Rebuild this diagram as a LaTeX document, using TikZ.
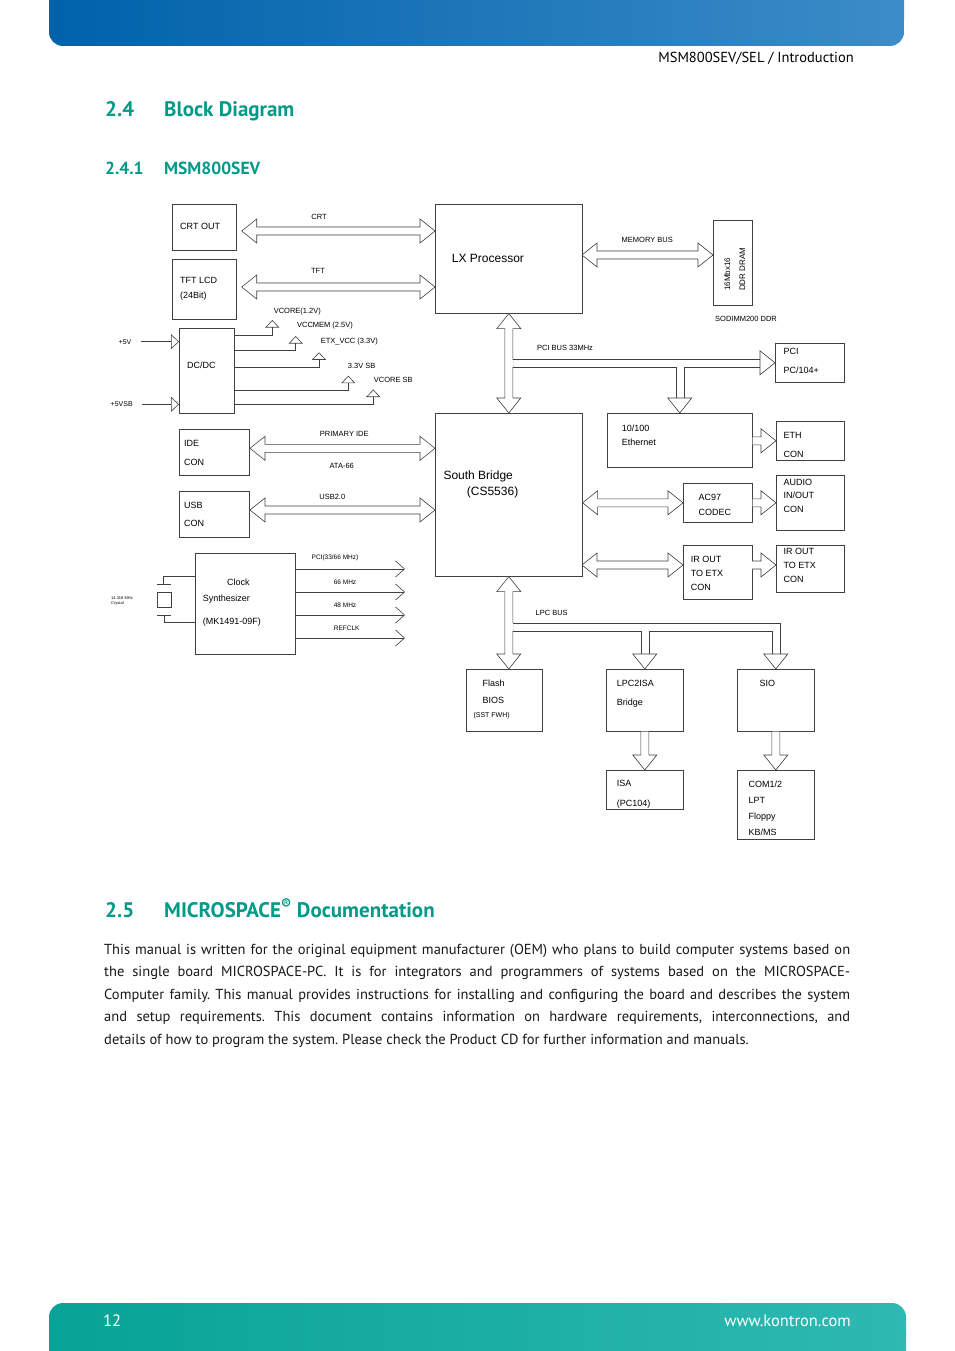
\documentclass[tikz,border=0pt]{standalone}
\usepackage{fontspec}
\setmainfont{PT Sans}
\newfontfamily\diag{Liberation Sans}
\usepackage{tikz}
\usetikzlibrary{calc, arrows.meta, positioning}
\definecolor{kteal}{RGB}{0,154,136}
\definecolor{hdleft}{RGB}{0,98,170}
\definecolor{hdright}{RGB}{60,140,200}
\definecolor{ftleft}{RGB}{8,163,150}
\definecolor{ftright}{RGB}{46,185,178}

\begin{document}
\begin{tikzpicture}[x=1pt, y=-1pt,
    blk/.style={draw=black!75, line width=0.6pt, fill=white, inner sep=0pt, anchor=north west},
    txt/.style={font=\diag\fontsize{9}{14}\selectfont, inner sep=0pt, anchor=base west, align=left},
    lbl/.style={font=\diag\fontsize{7.5}{9}\selectfont, inner sep=0pt},
    sml/.style={font=\diag\fontsize{6.5}{8}\selectfont, inner sep=0pt},
    wire/.style={draw=black!75, line width=0.6pt},
    dbl/.style={draw=black!75, line width=0.6pt, fill=white, to path={
        -- ($(\tikztostart)!15pt!(\tikztotarget)!12pt!90:(\tikztotarget)$)
        -- ($(\tikztostart)!15pt!(\tikztotarget)!4pt!90:(\tikztotarget)$)
        -- ($(\tikztotarget)!15pt!(\tikztostart)!4pt!-90:(\tikztostart)$)
        -- ($(\tikztotarget)!15pt!(\tikztostart)!12pt!-90:(\tikztostart)$)
        -- (\tikztotarget)
        -- ($(\tikztotarget)!15pt!(\tikztostart)!12pt!90:(\tikztostart)$)
        -- ($(\tikztotarget)!15pt!(\tikztostart)!4pt!90:(\tikztostart)$)
        -- ($(\tikztostart)!15pt!(\tikztotarget)!4pt!-90:(\tikztotarget)$)
        -- ($(\tikztostart)!15pt!(\tikztotarget)!12pt!-90:(\tikztotarget)$)
        -- cycle}},
    sgl/.style={draw=black!75, line width=0.6pt, fill=white, to path={
        ($(\tikztostart)!4pt!90:(\tikztotarget)$)
        -- ($(\tikztotarget)!15pt!(\tikztostart)!4pt!-90:(\tikztostart)$)
        -- ($(\tikztotarget)!15pt!(\tikztostart)!12pt!-90:(\tikztostart)$)
        -- (\tikztotarget)
        -- ($(\tikztotarget)!15pt!(\tikztostart)!12pt!90:(\tikztostart)$)
        -- ($(\tikztotarget)!15pt!(\tikztostart)!4pt!90:(\tikztostart)$)
        -- ($(\tikztostart)!4pt!-90:(\tikztotarget)$)}},
    bushead/.style={draw=black!75, line width=0.6pt, fill=white, to path={
        ($(\tikztotarget)!15pt!(\tikztostart)!12pt!90:(\tikztostart)$)
        -- (\tikztotarget)
        -- ($(\tikztotarget)!15pt!(\tikztostart)!12pt!-90:(\tikztostart)$) -- cycle}},
    pwr/.style={wire, -{Triangle[open, length=7.5pt, width=14pt]}},
    inarr/.style={wire, -{Triangle[open, length=8pt, width=15pt]}},
    clk/.style={wire, -{Straight Barb[length=9pt, width=16pt]}},
    sechead/.style={font=\bfseries\fontsize{21}{25}\selectfont, text=kteal, inner sep=0pt, anchor=base west},
    subsechead/.style={font=\bfseries\fontsize{17.5}{21}\selectfont, text=kteal, inner sep=0pt, anchor=base west}
]
\useasboundingbox (0,0) rectangle (954,1351);
\fill[white] (0,0) rectangle (954,1351);

% page header and footer
\shade[left color=hdleft, right color=hdright, rounded corners=14pt] (49,0) rectangle (904,46);
\shade[left color=hdleft, right color=hdright] (49,0) rectangle (904,20);
\node[font=\fontsize{14.5}{17}\selectfont, inner sep=0pt, anchor=base east] (runhead) at (854,63) {MSM800SEV/SEL / Introduction};
\shade[left color=ftleft, right color=ftright, rounded corners=14pt] (49,1303) rectangle (906,1351);
\shade[left color=ftleft, right color=ftright] (49,1330) rectangle (906,1351);
\node[font=\fontsize{16.5}{18}\selectfont, text=white, inner sep=0pt, anchor=base west] (pageno) at (103,1326) {12};
\node[font=\fontsize{16.5}{18}\selectfont, text=white, inner sep=0pt, anchor=base east] (website) at (851,1326) {www.kontron.com};

% headings
\node[sechead] (sec24) at (105,117) {2.4};
\node[sechead] (sec24t) at (164,117) {Block Diagram};
\node[subsechead] (sec241) at (105,175) {2.4.1};
\node[subsechead] (sec241t) at (164,175) {MSM800SEV};
\node[sechead] (sec25) at (105,917) {2.5};
\node[sechead] (sec25t) at (164,917) {MICROSPACE\textsuperscript{®} Documentation};

% blocks
\node[blk, minimum width=64pt, minimum height=46pt] (crtout) at (172,204) {};
\node[blk, minimum width=64pt, minimum height=60pt] (tftlcd) at (172,259) {};
\node[blk, minimum width=147pt, minimum height=109pt] (lx) at (435,204) {};
\node[blk, minimum width=39pt, minimum height=85pt] (dram) at (713,220) {};
\node[blk, minimum width=55pt, minimum height=85pt] (dcdc) at (179,328) {};
\node[blk, minimum width=69pt, minimum height=39pt] (pci) at (775,343) {};
\node[blk, minimum width=147pt, minimum height=163pt] (sb) at (435,413) {};
\node[blk, minimum width=145pt, minimum height=54pt] (eth) at (607,413) {};
\node[blk, minimum width=68pt, minimum height=39pt] (ethcon) at (776,421) {};
\node[blk, minimum width=70pt, minimum height=46pt] (ide) at (179,429) {};
\node[blk, minimum width=70pt, minimum height=46pt] (usb) at (179,491) {};
\node[blk, minimum width=69pt, minimum height=39pt] (ac97) at (683,483) {};
\node[blk, minimum width=68pt, minimum height=55pt] (audio) at (776,475) {};
\node[blk, minimum width=69pt, minimum height=54pt] (irout) at (683,545) {};
\node[blk, minimum width=68pt, minimum height=47pt] (ircon) at (776,545) {};
\node[blk, minimum width=100pt, minimum height=101pt] (clock) at (195,553) {};
\node[blk, minimum width=14pt, minimum height=15pt] (xtal) at (157,592) {};
\node[blk, minimum width=76pt, minimum height=62pt] (flash) at (466,669) {};
\node[blk, minimum width=77pt, minimum height=62pt] (lpcisa) at (606,669) {};
\node[blk, minimum width=77pt, minimum height=62pt] (sio) at (737,669) {};
\node[blk, minimum width=77pt, minimum height=39pt] (isa) at (606,770) {};
\node[blk, minimum width=77pt, minimum height=69pt] (com) at (737,770) {};

% block texts (multi-line nodes sit on the baseline of their last line)
\node[txt] (crtouttxt) at (180,229.3) {CRT OUT};
\node[txt, font=\diag\fontsize{9}{15}\selectfont] (tftlcdtxt) at (180,298.3) {TFT LCD\\(24Bit)};
\node[txt, font=\diag\fontsize{12}{14}\selectfont] (lxtxt) at (451.7,262.6) {LX Processor};
\node[txt, font=\diag\fontsize{8}{9}\selectfont, rotate=90] (dramtxta) at (730,291) {16Mbx16};
\node[txt, font=\diag\fontsize{8}{9}\selectfont, rotate=90] (dramtxtb) at (745,291) {DDR DRAM};
\node[lbl, anchor=base] (sodimm) at (746,321.7) {SODIMM200 DDR};
\node[txt] (dcdctxt) at (187,368.3) {DC/DC};
\node[txt, font=\diag\fontsize{9}{19}\selectfont] (pcitxt) at (783.3,373.3) {PCI\\PC/104+};
\node[txt, font=\diag\fontsize{12}{15.7}\selectfont] (sbtxt) at (443.3,495) {South Bridge\\\hspace*{23.4pt}(CS5536)};
\node[txt] (ethtxt) at (621.7,445) {10/100\\Ethernet};
\node[txt, font=\diag\fontsize{9}{19.3}\selectfont] (ethcontxt) at (783.3,457.6) {ETH\\CON};
\node[txt, font=\diag\fontsize{9}{18.4}\selectfont] (idetxt) at (184,465) {IDE\\CON};
\node[txt, font=\diag\fontsize{9}{18.4}\selectfont] (usbtxt) at (184,526.7) {USB\\CON};
\node[txt, font=\diag\fontsize{9}{14.4}\selectfont] (ac97txt) at (698.3,515) {AC97\\CODEC};
\node[txt, font=\diag\fontsize{9}{13.8}\selectfont] (audiotxt) at (783.3,512.6) {AUDIO\\IN/OUT\\CON};
\node[txt] (irouttxt) at (690.7,590.6) {IR OUT\\TO ETX\\CON};
\node[txt] (ircontxt) at (783.3,582.3) {IR OUT\\TO ETX\\CON};
\node[txt, font=\diag\fontsize{9}{15.4}\selectfont] (clocktxt) at (202.7,624) {\hspace*{24.3pt}Clock\\Synthesizer\\[7.6pt](MK1491-09F)};
\node[txt, font=\diag\fontsize{9}{17.3}\selectfont] (flashtxt) at (482.3,703.3) {Flash\\BIOS};
\node[txt, font=\diag\fontsize{7}{8}\selectfont] (flashsub) at (473.3,717) {(SST FWH)};
\node[txt, font=\diag\fontsize{9}{19}\selectfont] (lpcisatxt) at (616.7,705) {LPC2ISA\\Bridge};
\node[txt] (siotxt) at (759.3,686) {SIO};
\node[txt, font=\diag\fontsize{9}{20}\selectfont] (isatxt) at (616.7,806.6) {ISA\\(PC104)};
\node[txt, font=\diag\fontsize{9}{16}\selectfont] (comtxt) at (748.3,835.3) {COM1/2\\LPT\\Floppy\\KB/MS};

% video and memory
\coordinate (crtA) at (241.7,231);
\coordinate (tftA) at (241.7,287);
\coordinate (memA) at (582,255);
\draw[dbl] (crtA) to (crtA -| lx.west);
\draw[dbl] (tftA) to (tftA -| lx.west);
\draw[dbl] (memA) to (memA -| dram.west);

% pci bus
\draw[dbl] (lx.south) to (sb.north);
\coordinate (pciT) at ($(lx.south)+(4,45.75)$);
\coordinate (pciB) at ($(lx.south)+(4,53.75)$);
\coordinate (pciE) at ($(pci.west |- pciT)+(-15,0)$);
\coordinate (ethL) at ($(eth.north)+(-4,-15)$);
\coordinate (ethR) at ($(eth.north)+(4,-15)$);
\fill[white] ($(pciT)+(-0.4,0.3)$) rectangle ($(pciB)+(0.4,-0.3)$);
\draw[wire] (pciT) -- (pciE);
\draw[wire] (pciB) -| (ethL);
\draw[wire] (ethR) |- (pciE |- pciB);
\draw[bushead] (pciT |- pci.west) to (pci.west);
\draw[bushead] (eth.north |- pciB) to (eth.north);

% south bridge links
\coordinate (ideA) at (250,448.3);
\coordinate (usbA) at (250,510);
\coordinate (irA) at (582,565);
\coordinate (irB) at (752,565);
\draw[dbl] (ideA) to (ideA -| sb.west);
\draw[dbl] (usbA) to (usbA -| sb.west);
\draw[dbl] (sb.east |- ac97.west) to (ac97.west);
\draw[dbl] (irA) to (irA -| irout.west);
\draw[sgl] (eth.east |- ethcon.west) to (ethcon.west);
\draw[sgl] (ac97.east) to (ac97.east -| audio.west);
\draw[sgl] (irB) to (irB -| ircon.west);

% lpc bus
\draw[dbl] (sb.south) to (sb.south |- flash.north);
\coordinate (lpcT) at ($(sb.south)+(4,46.5)$);
\coordinate (lpcB) at ($(sb.south)+(4,54.5)$);
\coordinate (sioL) at ($(sio.north)+(-4,-15)$);
\coordinate (sioR) at ($(sio.north)+(4,-15)$);
\coordinate (isaL) at ($(lpcisa.north)+(-4,-15)$);
\coordinate (isaR) at ($(lpcisa.north)+(4,-15)$);
\fill[white] ($(lpcT)+(-0.4,0.3)$) rectangle ($(lpcB)+(0.4,-0.3)$);
\draw[wire] (lpcT) -| (sioR);
\draw[wire] (lpcB) -| (isaL);
\draw[wire] (isaR) |- (sioL |- lpcB) -- (sioL);
\draw[bushead] (sio.north |- lpcB) to (sio.north);
\draw[bushead] (lpcisa.north |- lpcB) to (lpcisa.north);
\draw[sgl] (lpcisa.south) to (isa.north);
\draw[sgl] (sio.south) to (com.north);

% power
\coordinate (in5v) at (140.7,341.7);
\coordinate (in5vsb) at (141.7,404.3);
\draw[inarr] (in5v) -- (in5v -| dcdc.west);
\draw[inarr] (in5vsb) -- (in5vsb -| dcdc.west);
\coordinate (vcore) at (272.3,320);
\coordinate (vccmem) at (295.7,336);
\coordinate (etxvcc) at (319,352.3);
\coordinate (sb33) at (348.3,375.7);
\coordinate (vcoresb) at (373.3,389.5);
\draw[pwr] ($(dcdc.north east)+(0,7)$) -| (vcore);
\draw[pwr] ($(dcdc.north east)+(0,22.7)$) -| (vccmem);
\draw[pwr] ($(dcdc.north east)+(0,39.3)$) -| (etxvcc);
\draw[pwr] ($(dcdc.north east)+(0,62)$) -| (sb33);
\draw[pwr] ($(dcdc.north east)+(0,76.3)$) -| (vcoresb);

% clock
\coordinate (clkA) at (405,569);
\coordinate (clkB) at (405,592);
\coordinate (clkC) at (405,615);
\coordinate (clkD) at (405,638);
\draw[clk] (clkA -| clock.east) -- (clkA);
\draw[clk] (clkB -| clock.east) -- (clkB);
\draw[clk] (clkC -| clock.east) -- (clkC);
\draw[clk] (clkD -| clock.east) -- (clkD);
\coordinate (xtop) at (163.5,584);
\coordinate (xbot) at (164,615);
\draw[wire] ($(clock.north west)+(0,23)$) -| (xtop);
\draw[wire] ($(xtop)+(-7,0)$) -- ($(xtop)+(7,0)$);
\draw[wire] ($(clock.north west)+(0,69.7)$) -| (xbot);
\draw[wire] ($(xbot)+(-7,0)$) -- ($(xbot)+(7,0)$);

% labels
\node[lbl] (crtlbl) at (319,217) {CRT};
\node[lbl] (tftlbl) at (318,271) {TFT};
\node[lbl] (memlbl) at (647.3,240) {MEMORY BUS};
\node[lbl] (pcilbl) at (565,348.3) {PCI BUS 33MHz};
\node[lbl] (idelbl) at (344.3,434) {PRIMARY IDE};
\node[lbl] (atalbl) at (341.7,466) {ATA-66};
\node[lbl] (usblbl) at (332.3,497.3) {USB2.0};
\node[lbl] (lpclbl) at (551.7,612.7) {LPC BUS};
\node[lbl] (vcorelbl) at (297.3,311.7) {VCORE(1.2V)};
\node[lbl] (vccmemlbl) at (325,325.7) {VCCMEM (2.5V)};
\node[lbl] (etxlbl) at (349.3,341.7) {ETX\_VCC (3.3V)};
\node[lbl] (sb33lbl) at (361.7,365.7) {3.3V SB};
\node[lbl] (vcoresblbl) at (393.3,380) {VCORE SB};
\node[lbl, font=\diag\fontsize{7}{8}\selectfont] (in5vlbl) at (125,341.7) {+5V};
\node[lbl, font=\diag\fontsize{7}{8}\selectfont] (in5vsblbl) at (121.7,404.3) {+5VSB};
\node[sml] (clkAlbl) at (335,557.7) {PCI(33/66 MHz)};
\node[sml] (clkBlbl) at (345,582) {66 MHz};
\node[sml] (clkClbl) at (345,605.7) {48 MHz};
\node[sml] (clkDlbl) at (346.7,628.3) {REFCLK};
\node[txt, font=\diag\fontsize{4}{5}\selectfont] (xtallbl) at (111,604) {14.318 MHz\\Crystal};

% documentation text
\node[inner sep=0pt, anchor=base west, text width=746pt, align=justify, font=\fontsize{14.5}{22.5}\selectfont\frenchspacing, text=black!90] (docbody) at (104,954) {This manual is written for the original equipment manufacturer (OEM) who plans to build computer systems based on\linebreak the single board MICROSPACE-PC. It is for integrators and programmers of systems based on the MICROSPACE-\linebreak Computer family. This manual provides instructions for installing and configuring the board and describes the system\linebreak and setup requirements. This document contains information on hardware requirements, interconnections, and\linebreak details of how to program the system. Please check the Product CD for further information and manuals.};
\end{tikzpicture}
\end{document}
